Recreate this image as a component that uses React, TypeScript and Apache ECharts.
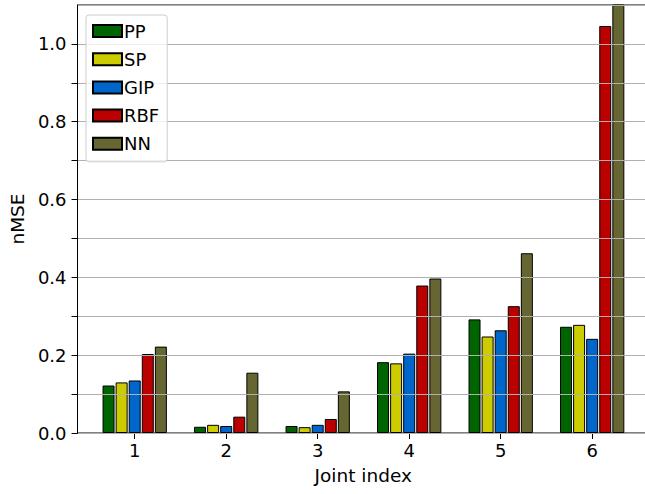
import React, { useEffect, useRef } from "react";
import * as echarts from "echarts";

const joints = [1, 2, 3, 4, 5, 6];
const seriesNames = ["PP", "SP", "GIP", "RBF", "NN"];
const ppValues = [0.122, 0.016, 0.018, 0.182, 0.292, 0.273];
const spValues = [0.130, 0.021, 0.015, 0.179, 0.248, 0.278];
const gipValues = [0.135, 0.018, 0.021, 0.204, 0.264, 0.242];
const rbfValues = [0.203, 0.042, 0.036, 0.379, 0.326, 1.046];
const nnValues = [0.222, 0.155, 0.107, 0.397, 0.462, 1.2];
const seriesColors = ["#006400", "#cccc00", "#0066cc", "#bb0000", "#666633"];
const yMax = 1.1;

export default function App() {
  const ref = useRef<HTMLDivElement>(null);
  useEffect(() => {
    if (!ref.current) return;
    document.body.style.overflow = "hidden";
    const chart = echarts.init(ref.current, null, { renderer: "svg" });
    const font = "DejaVu Sans";
    const allValues = [ppValues, spValues, gipValues, rbfValues, nnValues];
    chart.setOption({
      animation: false,
      textStyle: { fontFamily: font },
      grid: {
        left: 76,
        top: 5,
        width: 573,
        bottom: 61,
        show: true,
        borderColor: "#000",
        borderWidth: 1,
        backgroundColor: "transparent",
      },
      legend: {
        orient: "vertical",
        left: 86,
        top: 15,
        data: seriesNames,
        itemWidth: 29,
        itemHeight: 12,
        itemGap: 10.2,
        padding: [7, 8, 9, 6],
        borderColor: "#cccccc",
        borderWidth: 1,
        borderRadius: 3,
        backgroundColor: "rgba(255,255,255,0.8)",
        icon: "rect",
        textStyle: {
          fontFamily: font,
          fontSize: 18,
          lineHeight: 18,
          color: "#000",
          padding: [0, 0, 0, -3],
        },
        z: 20,
      },
      xAxis: {
        type: "value",
        min: 0.375,
        max: 6.621,
        name: "Joint index",
        nameLocation: "middle",
        nameGap: 33,
        nameTextStyle: { fontFamily: font, fontSize: 18.5, color: "#000" },
        axisLine: { show: true, lineStyle: { color: "#000", width: 1 } },
        axisTick: { show: true, customValues: joints, length: 6, lineStyle: { color: "#000" } },
        axisLabel: {
          customValues: joints,
          fontFamily: font,
          fontSize: 18,
          color: "#000",
          margin: 8,
        },
        splitLine: { show: false },
      },
      yAxis: {
        type: "value",
        min: 0,
        max: yMax,
        interval: 0.1,
        z: 10,
        name: "nMSE",
        nameLocation: "middle",
        nameGap: 50,
        nameTextStyle: { fontFamily: font, fontSize: 18.5, color: "#000" },
        axisLine: { show: true, lineStyle: { color: "#000", width: 1 } },
        axisTick: { show: true, length: 6, lineStyle: { color: "#000" } },
        axisLabel: {
          fontFamily: font,
          fontSize: 18,
          color: "#000",
          margin: 11,
          showMaxLabel: false,
          formatter: (v: number) => {
            const k = Math.round(v * 10);
            return k % 2 === 0 ? (k / 10).toFixed(1) : "";
          },
        },
        splitLine: { show: true, lineStyle: { color: "#b0b0b0", width: 1 } },
      },
      series: seriesNames.map((name, i) => ({
        name,
        type: "bar",
        data: joints.map((j, k) => [j, allValues[i][k]]),
        barWidth: 12,
        barGap: "9%",
        clip: true,
        itemStyle: { color: seriesColors[i], borderColor: "#000", borderWidth: 1 },
      })),
    });
    return () => chart.dispose();
  }, []);
  return (
    <div
      ref={ref}
      style={{ position: "fixed", left: 0, top: 0, width: 660, height: 494, background: "#fff" }}
    />
  );
}
